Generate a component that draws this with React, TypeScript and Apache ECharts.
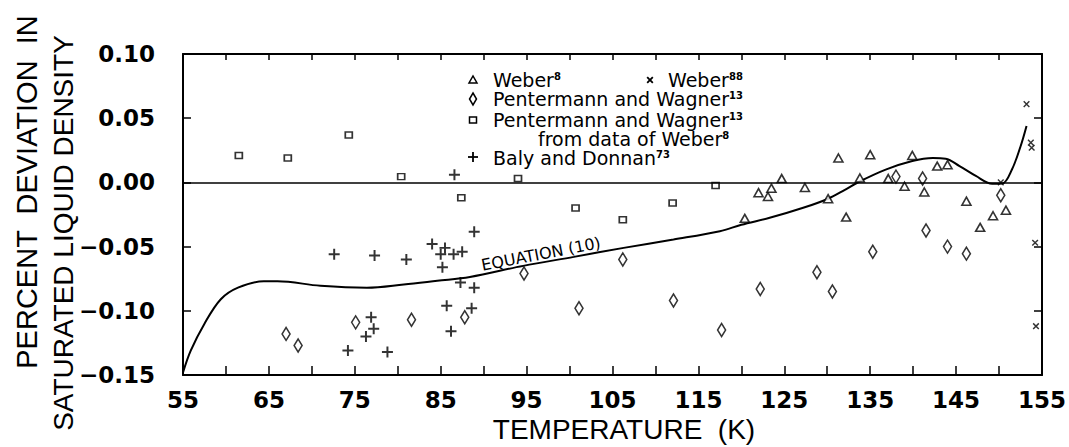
import React, { useEffect, useRef } from "react";
import * as echarts from "echarts";

// ---------- axis ticks ----------
const xTickValues = [55, 65, 75, 85, 95, 105, 115, 125, 135, 145, 155];
const xTickLabels = ["55", "65", "75", "85", "95", "105", "115", "125", "135", "145", "155"];
const yTickValues = [-0.15, -0.1, -0.05, 0, 0.05, 0.1];
const yTickLabels = ["−0.15", "−0.10", "−0.05", "0.00", "0.05", "0.10"];

// ---------- data (T in K, percent deviation) ----------
const weber8: [number, number][] = [
  [120.4, -0.028], [122.0, -0.008], [123.1, -0.011], [123.5, -0.0045], [124.7, 0.003],
  [127.4, -0.004], [130.1, -0.0127], [131.3, 0.019], [132.2, -0.027], [133.8, 0.0034],
  [135.0, 0.0216], [137.1, 0.003], [139.0, -0.003], [139.9, 0.021], [141.3, -0.0075],
  [142.8, 0.0127], [144.0, 0.0138], [146.2, -0.0146], [147.8, -0.035], [149.3, -0.026],
  [150.8, -0.0216],
];

const weber88: [number, number][] = [
  [150.2, 0.0], [153.2, 0.061], [153.7, 0.031], [153.8, 0.027], [154.2, -0.047], [154.3, -0.112],
];

const pentermannWagner13: [number, number][] = [
  [67.0, -0.118], [68.4, -0.127], [75.1, -0.109], [81.6, -0.107], [87.8, -0.105],
  [94.7, -0.071], [101.1, -0.098], [106.2, -0.06], [112.1, -0.092], [117.7, -0.115],
  [122.2, -0.083], [128.8, -0.07], [130.6, -0.085], [135.3, -0.054], [138.0, 0.0045],
  [141.1, 0.003], [141.5, -0.0375], [144.0, -0.05], [146.2, -0.0555], [150.2, -0.01],
];

const pentermannWagnerFromWeber: [number, number][] = [
  [61.5, 0.021], [67.2, 0.019], [74.3, 0.037], [80.4, 0.0045], [87.4, -0.012],
  [94.0, 0.003], [100.7, -0.02], [106.2, -0.029], [112.0, -0.016], [117.0, -0.0025],
];

const balyDonnan: [number, number][] = [
  [72.6, -0.056], [77.3, -0.057], [81.0, -0.06], [84.0, -0.048], [85.5, -0.051],
  [85.0, -0.056], [86.5, -0.056], [87.5, -0.054], [85.2, -0.066], [87.3, -0.078],
  [85.7, -0.096], [76.9, -0.105], [77.2, -0.114], [76.3, -0.12], [74.2, -0.131],
  [78.8, -0.132], [86.2, -0.116], [86.6, 0.006], [88.9, -0.0385], [88.9, -0.082],
  [88.6, -0.098],
];

const equation10: [number, number][] = [
  [55.0, -0.148], [55.9, -0.131], [57.5, -0.11], [59.4, -0.091], [61.4, -0.082],
  [64.4, -0.077], [66.0, -0.077], [71.0, -0.0805], [76.4, -0.082], [80.7, -0.0795],
  [84.6, -0.0766], [88.4, -0.0737], [94.6, -0.065], [100.5, -0.058], [106.3, -0.051],
  [112.1, -0.0445], [117.5, -0.038], [120.0, -0.033], [123.3, -0.0276], [127.2, -0.0198],
  [130.1, -0.0127], [132.0, -0.006], [133.7, 0.0005], [136.8, 0.01], [139.9, 0.0167], [142.3, 0.019],
  [143.8, 0.0185], [145.4, 0.0127], [147.3, 0.005], [149.2, -0.001], [150.4, -0.0008],
  [151.5, 0.01], [152.5, 0.028], [153.2, 0.044],
];

const CROSS = "path://M0,4.1H10V5.9H0ZM4.1,0H5.9V10H4.1Z";
const TICK_FONT = "DejaVu Sans";
const TITLE_FONT = "Liberation Sans";
const LEG_FONT = "DejaVu Sans";

function labelFor(values: number[], labels: string[], v: number) {
  const i = values.findIndex((t) => Math.abs(t - v) < 1e-6);
  return i >= 0 ? labels[i] : "";
}

const legRich = {
  n: { fontSize: 19, fontFamily: LEG_FONT, color: "#000", lineHeight: 17 },
  s: { fontSize: 10, fontFamily: LEG_FONT, color: "#000", verticalAlign: "top", fontWeight: "bold", lineHeight: 9 },
};

function legText(x: number, y: number, text: string) {
  return {
    type: "text",
    x,
    y,
    style: { text, rich: legRich, align: "left", verticalAlign: "middle" },
  };
}

export default function App() {
  const ref = useRef<HTMLDivElement>(null);

  useEffect(() => {
    const chart = echarts.init(ref.current!, null, { renderer: "svg" });

    const axisLine = { show: true, onZero: false, lineStyle: { color: "#000", width: 2 } };
    const xBase = {
      type: "value",
      min: 55,
      max: 155,
      interval: 5,
      axisLine,
      splitLine: { show: false },
    };
    const yBase = {
      type: "value",
      min: -0.15,
      max: 0.1,
      interval: 0.05,
      axisLine,
      splitLine: { show: false },
    };

    const option: any = {
      animation: false,
      backgroundColor: "#fff",
      grid: { left: 183, top: 54, width: 860, height: 321, containLabel: false },
      xAxis: [
        {
          ...xBase,
          position: "bottom",
          axisTick: { show: true, inside: true, length: 9, lineStyle: { color: "#000", width: 1.5 } },
          axisLabel: {
            show: true,
            margin: 13,
            color: "#000",
            fontSize: 23,
            fontWeight: "bold",
            fontFamily: TICK_FONT,
            showMinLabel: true,
            showMaxLabel: true,
            formatter: (v: number) => labelFor(xTickValues, xTickLabels, v),
          },
        },
        {
          ...xBase,
          position: "top",
          axisTick: { show: true, inside: true, length: 6, lineStyle: { color: "#000", width: 1.5 } },
          axisLabel: { show: false },
        },
      ],
      yAxis: [
        {
          ...yBase,
          position: "left",
          axisTick: { show: true, inside: true, length: 8, lineStyle: { color: "#000", width: 1.5 } },
          axisLabel: {
            show: true,
            margin: 28,
            color: "#000",
            fontSize: 23,
            fontWeight: "bold",
            fontFamily: TICK_FONT,
            showMinLabel: true,
            showMaxLabel: true,
            formatter: (v: number) => labelFor(yTickValues, yTickLabels, v),
          },
        },
        {
          ...yBase,
          position: "right",
          axisTick: { show: true, inside: true, length: 8, lineStyle: { color: "#000", width: 1.5 } },
          axisLabel: { show: false },
        },
      ],
      series: [
        {
          name: "Equation (10)",
          type: "line",
          data: equation10,
          smooth: 0.35,
          symbol: "none",
          lineStyle: { color: "#000", width: 2 },
          z: 2,
          markLine: {
            silent: true,
            symbol: ["none", "none"],
            label: { show: false },
            lineStyle: { color: "#000", width: 1.5, type: "solid" },
            data: [{ yAxis: 0 }],
          },
        },
        {
          name: "Weber 8",
          type: "scatter",
          data: weber8,
          symbol: "triangle",
          symbolSize: [9, 8],
          itemStyle: { color: "#fff", borderColor: "#000", borderWidth: 1.6 },
          z: 3,
        },
        {
          name: "Weber 88",
          type: "scatter",
          data: weber88,
          symbol: CROSS,
          symbolSize: 8,
          symbolRotate: 45,
          itemStyle: { color: "#000" },
          z: 3,
        },
        {
          name: "Pentermann and Wagner 13",
          type: "scatter",
          data: pentermannWagner13,
          symbol: "diamond",
          symbolSize: [8, 13],
          itemStyle: { color: "#fff", borderColor: "#000", borderWidth: 1.6 },
          z: 3,
        },
        {
          name: "Pentermann and Wagner 13 from data of Weber 8",
          type: "scatter",
          data: pentermannWagnerFromWeber,
          symbol: "rect",
          symbolSize: [7, 6],
          itemStyle: { color: "#fff", borderColor: "#000", borderWidth: 1.6 },
          z: 3,
        },
        {
          name: "Baly and Donnan 73",
          type: "scatter",
          data: balyDonnan,
          symbol: CROSS,
          symbolSize: 11,
          itemStyle: { color: "#000" },
          z: 3,
        },
      ],
      graphic: [
        // axis titles
        {
          type: "text",
          x: 27,
          y: 192,
          rotation: Math.PI / 2,
          style: {
            text: "PERCENT  DEVIATION  IN",
            fontSize: 29,
            fontFamily: TITLE_FONT,
            fill: "#000",
            align: "center",
            verticalAlign: "middle",
          },
        },
        {
          type: "text",
          x: 63,
          y: 233,
          rotation: Math.PI / 2,
          style: {
            text: "SATURATED LIQUID DENSITY",
            fontSize: 28,
            fontFamily: TITLE_FONT,
            fill: "#000",
            align: "center",
            verticalAlign: "middle",
          },
        },
        {
          type: "text",
          x: 624,
          y: 429,
          style: {
            text: "TEMPERATURE  (K)",
            fontSize: 28,
            fontFamily: TITLE_FONT,
            fill: "#000",
            align: "center",
            verticalAlign: "middle",
          },
        },
        // curve label
        {
          type: "text",
          x: 541,
          y: 254,
          rotation: 0.19,
          style: {
            text: "EQUATION (10)",
            fontSize: 16,
            fontFamily: LEG_FONT,
            fill: "#000",
            align: "center",
            verticalAlign: "middle",
          },
        },
        // legend markers
        {
          type: "polygon",
          shape: { points: [[469, 83], [477, 83], [473, 76]] },
          style: { fill: "#fff", stroke: "#000", lineWidth: 1.5 },
        },
        {
          type: "group",
          x: 650,
          y: 80,
          rotation: Math.PI / 4,
          children: [
            { type: "line", shape: { x1: -4, y1: 0, x2: 4, y2: 0 }, style: { stroke: "#000", lineWidth: 1.8 } },
            { type: "line", shape: { x1: 0, y1: -4, x2: 0, y2: 4 }, style: { stroke: "#000", lineWidth: 1.8 } },
          ],
        },
        {
          type: "polygon",
          shape: { points: [[473, 93], [476.5, 99], [473, 105], [469.5, 99]] },
          style: { fill: "#fff", stroke: "#000", lineWidth: 1.5 },
        },
        {
          type: "rect",
          shape: { x: 469.5, y: 117, width: 7, height: 6 },
          style: { fill: "#fff", stroke: "#000", lineWidth: 1.5 },
        },
        { type: "line", shape: { x1: 468, y1: 157, x2: 478, y2: 157 }, style: { stroke: "#000", lineWidth: 1.8 } },
        { type: "line", shape: { x1: 473, y1: 152, x2: 473, y2: 162 }, style: { stroke: "#000", lineWidth: 1.8 } },
        // legend texts
        legText(493, 80, "{n|Weber}{s|8}"),
        legText(668, 80, "{n|Weber}{s|88}"),
        legText(493, 99, "{n|Pentermann and Wagner}{s|13}"),
        legText(493, 120, "{n|Pentermann and Wagner}{s|13}"),
        legText(538, 139, "{n|from data of Weber}{s|8}"),
        legText(493, 158, "{n|Baly and Donnan}{s|73}"),
      ],
    };

    chart.setOption(option);
    return () => chart.dispose();
  }, []);

  return (
    <div
      ref={ref}
      style={{ position: "fixed", left: 0, top: 0, width: 1069, height: 447, background: "#fff" }}
    />
  );
}
